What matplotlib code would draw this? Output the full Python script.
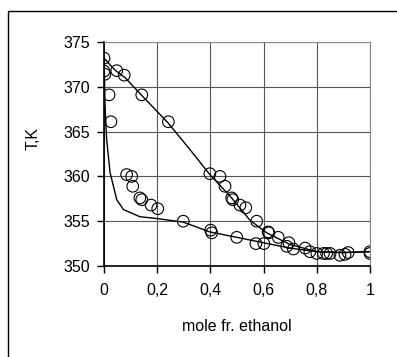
import matplotlib
matplotlib.use('Agg')
import matplotlib.pyplot as plt
from matplotlib.patches import Rectangle

plt.rcParams['font.family'] = ['Liberation Sans', 'DejaVu Sans']

# experimental points (mole fraction ethanol, T in K)
x_pts = [0.0, 0.0, 0.003, 0.048, 0.076, 0.142, 0.019, 0.026, 0.242, 0.085, 0.104,
         0.108, 0.135, 0.142, 0.177, 0.202, 0.298, 0.401, 0.405, 0.398, 0.436,
         0.455, 0.48, 0.484, 0.511, 0.533, 0.499, 0.574, 0.617, 0.62, 0.571,
         0.601, 0.655, 0.695, 0.687, 0.712, 0.756, 0.774, 0.8, 0.825, 0.837,
         0.85, 0.887, 0.906, 0.918, 1.0, 1.0]
T_pts = [373.2, 371.75, 371.4, 371.8, 371.3, 369.1, 369.1, 366.1, 366.1, 360.2, 360.0,
         358.9, 357.6, 357.4, 356.8, 356.4, 355.0, 354.0, 353.7, 360.3, 360.0,
         358.9, 357.6, 357.4, 356.8, 356.5, 353.2, 355.0, 353.8, 353.7, 352.5,
         352.5, 353.2, 352.6, 352.2, 351.9, 352.0, 351.6, 351.4, 351.4, 351.4,
         351.4, 351.2, 351.3, 351.5, 351.6, 351.4]

# model curves
dew_x = [0.0, 0.04, 0.08, 0.14, 0.24, 0.323, 0.398, 0.474, 0.549, 0.612, 0.699, 0.8, 0.9, 1.0]
dew_T = [373.2, 371.9, 371.0, 369.1, 366.0, 363.0, 360.2, 357.8, 355.1, 353.7, 352.4, 351.6, 351.5, 351.6]
bub_x = [0.0, 0.004, 0.01, 0.023, 0.048, 0.073, 0.135, 0.198, 0.298, 0.398, 0.499, 0.599, 0.699, 0.8, 0.9, 1.0]
bub_T = [373.2, 367.8, 364.1, 360.4, 357.4, 356.3, 355.5, 355.3, 354.9, 353.8, 353.2, 352.6, 352.0, 351.6, 351.5, 351.6]

fig = plt.figure(figsize=(3.97, 3.57), dpi=100)
fig.patches.append(Rectangle((8 / 397, -0.1), 1.2, 1 - 11 / 357 + 0.1, transform=fig.transFigure,
                             fill=False, edgecolor='black', linewidth=1.0))
ax = fig.add_axes([104 / 397, 1 - 266 / 357, 266 / 397, 224 / 357])

ax.plot(dew_x, dew_T, color='black', linewidth=1.0, zorder=3)
ax.plot(bub_x, bub_T, color='black', linewidth=1.0, zorder=3)
ax.scatter(x_pts, T_pts, s=70, facecolors='none', edgecolors='black', linewidths=0.8, zorder=4)

ax.set_xlim(0, 1)
ax.set_ylim(350, 375)
ax.set_xticks([0, 0.2, 0.4, 0.6, 0.8, 1])
ax.set_xticklabels(['0', '0,2', '0,4', '0,6', '0,8', '1'])
ax.set_yticks([350, 355, 360, 365, 370, 375])
ax.grid(True, color='#555555', linewidth=0.8)
ax.set_axisbelow(True)
for s in ['top', 'right']:
    ax.spines[s].set_color('#888888')
for s in ['left', 'bottom']:
    ax.spines[s].set_color('black')
    ax.spines[s].set_linewidth(1.2)
ax.tick_params(direction='out', length=5, width=1, labelsize=11.5)
ax.tick_params(axis='x', pad=7)
ax.tick_params(axis='y', pad=5)
ax.set_xlabel('mole fr. ethanol', fontsize=11.5, va='center')
ax.xaxis.set_label_coords(0.5, -0.268)
ax.set_ylabel('T,K', fontsize=11.5, va='center')
ax.yaxis.set_label_coords(-0.267, 0.567)

fig.savefig('out.png', dpi=100)
